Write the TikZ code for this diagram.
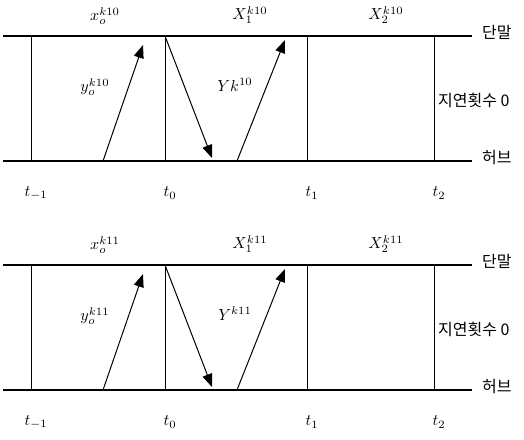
\documentclass[tikz,border=0pt]{standalone}
\usepackage{fontspec}
\newfontfamily\korfont{Noto Sans CJK KR}
\usetikzlibrary{arrows.meta}
\tikzset{
  rail/.style={line width=1.3pt, color=black},
  slot/.style={line width=1pt, color=black},
  msg/.style={-{Triangle[length=13pt,width=10pt]}, line width=1pt},
  lab/.style={inner sep=0pt, scale=1.6, transform shape},
  kor/.style={inner sep=0pt, anchor=west, font=\korfont\fontsize{16}{18}\selectfont},
}

\begin{document}
\begin{tikzpicture}[x=1pt,y=-1pt]
  \useasboundingbox (0,0) rectangle (524,439);
  \foreach \p/\dy/\k/\Y in {a/0/10/{Yk^{10}}, b/229/11/{Y^{k11}}} {
    \begin{scope}[yshift=-\dy pt]
      % terminal line (top) and hub line (bottom)
      \coordinate (\p-tl) at (3,36);  \coordinate (\p-tr) at (472,36);
      \coordinate (\p-bl) at (3,161); \coordinate (\p-br) at (472,161);
      \draw[rail] (\p-tl) -- (\p-tr);
      \draw[rail] (\p-bl) -- (\p-br);
      \node[kor] (\p-term) at (482,32) {단말};
      \node[kor] (\p-delay) at (438,100) {지연횟수 0};
      \node[kor] (\p-hub) at (482,158) {허브};
      % slot boundaries
      \foreach \n/\x/\t in {m/31/{-1}, 0/165/0, 1/307/1, 2/434/2} {
        \coordinate (\p-\n-top) at (\x,36);
        \coordinate (\p-\n-bot) at (\x,161);
        \draw[slot] (\p-\n-top) -- (\p-\n-bot);
        \node[lab] (\p-t\n) at (\x+5,193) {$t_{\t}$};
      }
      % transmissions
      \coordinate (\p-up1) at (103,161); \coordinate (\p-up1e) at (143,45);
      \coordinate (\p-dn) at (165,36);   \coordinate (\p-dne) at (212,158);
      \coordinate (\p-up2) at (237,161); \coordinate (\p-up2e) at (285,40);
      \draw[msg] (\p-up1) -- (\p-up1e);
      \draw[msg] (\p-dn) -- (\p-dne);
      \draw[msg] (\p-up2) -- (\p-up2e);
      % slot labels
      \node[lab] (\p-x0) at (105,16) {$x_o^{k\k}$};
      \node[lab] (\p-x1) at (250,15) {$X_1^{k\k}$};
      \node[lab] (\p-x2) at (386,15) {$X_2^{k\k}$};
      \node[lab] (\p-y0) at (95,87) {$y_o^{k\k}$};
      \node[lab] (\p-y1) at (235,85) {$\Y$};
    \end{scope}
  }
\end{tikzpicture}
\end{document}
